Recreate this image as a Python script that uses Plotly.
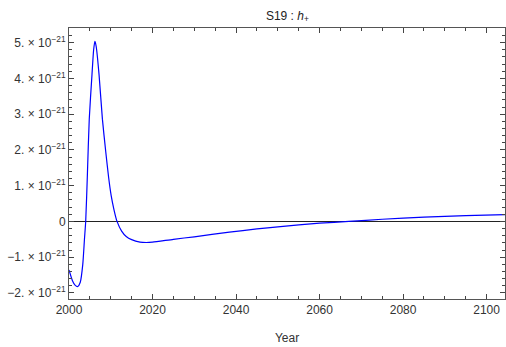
import plotly.graph_objects as go

# (values in units of 1e-21)
years = [2000.0, 2000.8, 2001.5, 2002.1, 2002.7, 2003.3, 2003.7, 2004.0, 2004.4,
         2004.85, 2005.5, 2005.9, 2006.2, 2006.5, 2007.2, 2008.0, 2008.8, 2009.5,
         2010.1, 2010.75, 2011.5, 2012.6, 2013.7, 2015.0, 2017.0, 2018.5, 2020.0, 2025.0,
         2030.0, 2038.4, 2045.0, 2050.0, 2060.0, 2067.0, 2075.0, 2085.0, 2095.0, 2104.4]
h_plus_e21 = [-1.36, -1.65, -1.79, -1.82, -1.70, -1.20, -0.50, 0.0, 1.30,
              2.86, 4.10, 4.80, 5.04, 4.90, 4.10, 2.86, 1.95, 1.22,
              0.72, 0.34, 0.0, -0.27, -0.42, -0.51, -0.58, -0.59, -0.58, -0.50,
              -0.43, -0.30, -0.21, -0.15, -0.05, 0.0, 0.06, 0.12, 0.16, 0.19]
scale = 1e-21
h_plus = [v * scale for v in h_plus_e21]

ytick_vals = [-2, -1, 0, 1, 2, 3, 4, 5]
ytick_text = ["\u22122. \u00d7 10<sup>\u221221</sup>", "\u22121. \u00d7 10<sup>\u221221</sup>", "0",
              "1. \u00d7 10<sup>\u221221</sup>", "2. \u00d7 10<sup>\u221221</sup>",
              "3. \u00d7 10<sup>\u221221</sup>", "4. \u00d7 10<sup>\u221221</sup>",
              "5. \u00d7 10<sup>\u221221</sup>"]
xtick_vals = [2000, 2020, 2040, 2060, 2080, 2100]

fig = go.Figure()
fig.add_trace(go.Scatter(x=years, y=h_plus, mode="lines",
                         line=dict(color="#0000ff", width=1.2, shape="spline", smoothing=0.6),
                         showlegend=False))

fig.update_layout(
    width=506, height=347,
    margin=dict(l=69, r=1, t=28, b=48, autoexpand=False),
    paper_bgcolor="white", plot_bgcolor="white",
    font=dict(family="Liberation Sans, Arial, sans-serif", size=12, color="#333333"),
    title=dict(text="S19 : <i>h</i><sub>+</sub>", x=0.568, xanchor="center", y=0.955, yanchor="middle",
               font=dict(size=12, color="#222222")),
)
fig.update_xaxes(
    range=[2000, 2104.4], tickvals=xtick_vals, ticktext=[str(v) for v in xtick_vals],
    ticks="inside", ticklen=5, tickcolor="#444444", tickwidth=1, automargin=False,
    minor=dict(dtick=5, ticks="inside", ticklen=3, tickcolor="#444444", showgrid=False),
    showline=True, linecolor="#555555", linewidth=1, mirror="ticks",
    showgrid=False, zeroline=False,
    title=dict(text="Year", font=dict(size=12, color="#333333"), standoff=17),
)
fig.update_yaxes(
    range=[-2.17e-21, 5.41e-21], tickvals=[v * scale for v in ytick_vals], ticktext=ytick_text,
    ticks="inside", ticklen=5, tickcolor="#444444", tickwidth=1, automargin=False,
    minor=dict(dtick=0.2e-21, ticks="inside", ticklen=3, tickcolor="#444444", showgrid=False),
    showline=True, linecolor="#555555", linewidth=1, mirror="ticks",
    showgrid=False, zeroline=True, zerolinecolor="#222222", zerolinewidth=1,
)

fig.write_html("out.html", config={"displayModeBar": False})

# remove the browser's default page margin so the figure sits at the top-left corner
with open("out.html", "r", encoding="utf-8") as f:
    html = f.read()
html = html.replace("<head>", "<head><style>html,body{margin:0;padding:0;overflow:hidden;}</style>", 1)
with open("out.html", "w", encoding="utf-8") as f:
    f.write(html)
